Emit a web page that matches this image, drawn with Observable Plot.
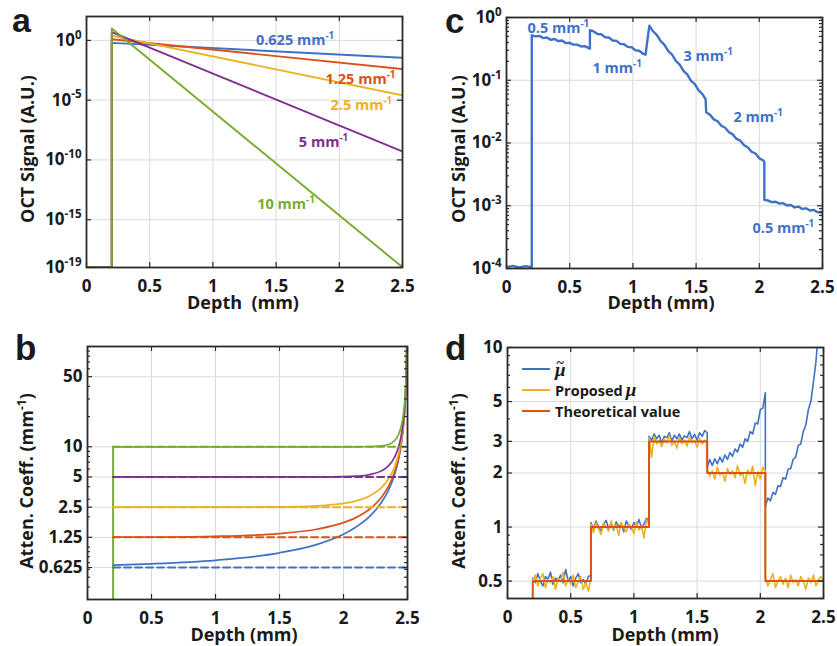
<!DOCTYPE html>
<html>
<head>
<meta charset="utf-8">
<script src="https://cdn.jsdelivr.net/npm/d3@7"></script>
<script src="https://cdn.jsdelivr.net/npm/@observablehq/plot@0.6"></script>
<style>
  html, body { margin: 0; padding: 0; background: #fff; }
  #fig { position: relative; width: 837px; height: 646px; overflow: hidden; background: #fff; }
  #fig > svg { position: absolute; }
</style>
</head>
<body>
<div id="fig"></div>
<script>
// ---------------- shared ----------------
const xTicks = [0, 0.5, 1, 1.5, 2, 2.5];
const xTickLabels = ["0", "0.5", "1", "1.5", "2", "2.5"];
const C_BLUE = "#3f72c6", C_RED = "#d95319", C_YELLOW = "#edb120", C_PURPLE = "#7e2f8e", C_GREEN = "#77ac30";

// ---------------- panel a ----------------
const aDepth = [0, 0.2, 0.2, 2.5];
const aSig0625 = [1e-19, 1e-19, 0.62, 3.5e-2];
const aSig125 = [1e-19, 1e-19, 1.25, 4.0e-3];
const aSig25 = [1e-19, 1e-19, 2.5, 2.5e-5];
const aSig5 = [1e-19, 1e-19, 5, 5.1e-10];
const aSig10 = [1e-19, 1e-19, 10, 1.05e-19];
const aYTicks = [1e-19, 1e-15, 1e-10, 1e-5, 1];
const aYTickLabels = ["10^-19", "10^-15", "10^-10", "10^-5", "10^0"];
const aLabelText = ["0.625 mm^-1", "1.25 mm^-1", "2.5 mm^-1", "5 mm^-1", "10 mm^-1"];
const aLabelDepth = [1.34, 1.89, 1.93, 1.68, 1.35];
const aLabelSignal = [1, 5.4e-4, 3.5e-6, 2.8e-9, 1.8e-14];

// ---------------- panel b ----------------
const bDepth = [0.2, 0.5, 1.0, 1.5, 1.8, 2.0, 2.1, 2.2, 2.3, 2.35, 2.4, 2.43, 2.45, 2.47, 2.48, 2.49, 2.495];
const bEst0625 = [0.662, 0.681, 0.738, 0.876, 1.07, 1.345, 1.59, 2.0, 2.83, 3.65, 5.32, 7.46, 10.3, 17.0, 25.3, 50.3, 100];
const bEst125 = [1.254, 1.258, 1.28, 1.362, 1.513, 1.752, 1.977, 2.369, 3.177, 4.0, 5.65, 7.79, 10.64, 17.29, 25.6, 50.6, 101];
const bEst25 = [2.5, 2.5, 2.501, 2.517, 2.578, 2.724, 2.891, 3.218, 3.955, 4.738, 6.353, 8.466, 11.3, 17.95, 26.26, 51.2, 101];
const bEst5 = [5, 5, 5, 5, 5.005, 5.034, 5.093, 5.262, 5.783, 6.436, 7.91, 9.93, 12.71, 19.29, 27.58, 52.5, 102];
const bEst10 = [10, 10, 10, 10, 10, 10, 10, 10.02, 10.19, 10.52, 11.56, 13.27, 15.82, 22.16, 30.33, 55.2, 105];
const bEdgeDepth = [0.2, 0.2];
const bEdgeValue = [0.3, 10];
const bTrueDepth = [0.2, 2.5];
const bTrue = [0.625, 1.25, 2.5, 5, 10];
const bYTicks = [0.625, 1.25, 2.5, 5, 10, 50];
const bYTickLabels = ["0.625", "1.25", "2.5", "5", "10", "50"];
const bYMinor = [0.3, 0.4, 0.5, 0.6, 0.7, 0.8, 0.9, 1, 2, 3, 4, 6, 7, 8, 9, 20, 30, 40, 60, 70, 80, 90, 100];

// ---------------- panel c ----------------
const cDepth = [
  0, 0.05, 0.10, 0.15, 0.20,
  0.20, 0.23, 0.26, 0.29, 0.32, 0.35, 0.38, 0.41, 0.44, 0.47, 0.50, 0.53, 0.56, 0.59, 0.62, 0.65, 0.66,
  0.66, 0.69, 0.72, 0.75, 0.78, 0.81, 0.84, 0.87, 0.90, 0.93, 0.96, 0.99, 1.02, 1.05, 1.08, 1.10,
  1.13, 1.16, 1.19, 1.22, 1.25, 1.28, 1.31, 1.34, 1.37, 1.40, 1.43, 1.46, 1.49, 1.52, 1.55, 1.575,
  1.58, 1.61, 1.64, 1.67, 1.70, 1.73, 1.76, 1.79, 1.82, 1.85, 1.88, 1.91, 1.94, 1.97, 2.00, 2.03, 2.04,
  2.04, 2.07, 2.10, 2.13, 2.16, 2.19, 2.22, 2.25, 2.28, 2.31, 2.34, 2.37, 2.40, 2.43, 2.46, 2.50];
const cSignal = [
  1.05e-4, 1.1e-4, 1.04e-4, 1.09e-4, 1.05e-4,
  0.52, 0.50, 0.51, 0.47, 0.48, 0.44, 0.455, 0.42, 0.43, 0.39, 0.395, 0.37, 0.37, 0.345, 0.35, 0.325, 0.32,
  0.63, 0.60, 0.545, 0.54, 0.485, 0.48, 0.43, 0.425, 0.38, 0.375, 0.34, 0.335, 0.30, 0.295, 0.265, 0.255,
  0.74, 0.60, 0.525, 0.42, 0.365, 0.29, 0.255, 0.203, 0.178, 0.141, 0.124, 0.098, 0.087, 0.069, 0.060, 0.050,
  0.031, 0.0282, 0.0238, 0.0222, 0.0188, 0.0175, 0.0148, 0.0137, 0.0116, 0.0109, 0.0092, 0.0085, 0.0072, 0.0068, 0.0057, 0.0053, 0.0050,
  0.00124, 0.00121, 0.00114, 0.00116, 0.00108, 0.00110, 0.00101, 0.00103, 0.00094, 0.00097, 0.00089, 0.00091, 0.00084, 0.00086, 0.00079, 0.00078];
const cYTicks = [1e-4, 1e-3, 1e-2, 1e-1, 1];
const cYTickLabels = ["10^-4", "10^-3", "10^-2", "10^-1", "10^0"];
const cYMinor = [2e-4, 3e-4, 4e-4, 5e-4, 6e-4, 7e-4, 8e-4, 9e-4, 2e-3, 3e-3, 4e-3, 5e-3, 6e-3, 7e-3, 8e-3, 9e-3,
                 2e-2, 3e-2, 4e-2, 5e-2, 6e-2, 7e-2, 8e-2, 9e-2, 0.2, 0.3, 0.4, 0.5, 0.6, 0.7, 0.8, 0.9];
const cLabelText = ["0.5 mm^-1", "1 mm^-1", "3 mm^-1", "2 mm^-1", "0.5 mm^-1"];
const cLabelDepth = [0.166, 0.68, 1.40, 1.796, 1.946];
const cLabelSignal = [0.675, 0.156, 0.24, 0.0258, 4.4e-4];

// ---------------- panel d ----------------
const dDepth = [
  0.20,0.22,0.24,0.26,0.28,0.30,0.32,0.34,0.36,0.38,0.40,0.42,0.44,0.46,0.48,0.50,0.52,0.54,0.56,0.58,0.60,0.62,0.64,0.66,
  0.66,0.68,0.70,0.72,0.74,0.76,0.78,0.80,0.82,0.84,0.86,0.88,0.90,0.92,0.94,0.96,0.98,1.00,1.02,1.04,1.06,1.08,1.10,1.12,
  1.12,1.14,1.16,1.18,1.20,1.22,1.24,1.26,1.28,1.30,1.32,1.34,1.36,1.38,1.40,1.42,1.44,1.46,1.48,1.50,1.52,1.54,1.56,1.58,
  1.58,1.60,1.62,1.64,1.66,1.68,1.70,1.72,1.74,1.76,1.78,1.80,1.82,1.84,1.86,1.88,1.90,1.92,1.94,1.96,1.98,2.00,2.02,2.04,
  2.04,2.06,2.08,2.10,2.12,2.14,2.16,2.18,2.20,2.22,2.24,2.26,2.28,2.30,2.32,2.34,2.36,2.38,2.40,2.42,2.44,2.46,2.48,2.50];
const dProposed = [
  0.50,0.54,0.47,0.52,0.55,0.46,0.51,0.49,0.53,0.45,0.52,0.50,0.56,0.47,0.51,0.48,0.54,0.46,0.50,0.53,0.45,0.49,0.44,0.52,
  1.04,0.93,1.06,0.98,0.91,1.05,1.01,0.95,1.08,0.97,1.03,0.90,1.06,0.99,0.94,1.04,1.00,0.92,1.07,0.96,1.02,0.87,1.10,1.03,
  3.15,2.45,3.20,2.90,3.05,2.80,3.10,2.95,3.25,2.85,3.00,2.75,3.15,2.92,3.05,2.82,3.18,2.95,3.02,2.78,3.12,2.90,3.05,2.95,
  2.10,1.92,2.05,1.85,2.15,1.95,2.02,1.80,2.12,1.97,2.05,1.88,2.20,1.93,2.00,1.75,2.08,1.95,2.18,1.70,2.03,1.85,2.15,2.05,
  0.53,0.47,0.51,0.55,0.46,0.50,0.53,0.48,0.52,0.46,0.54,0.49,0.51,0.47,0.53,0.50,0.45,0.52,0.49,0.54,0.47,0.51,0.53,0.50];
const dTilde = [
  0.52,0.49,0.55,0.50,0.47,0.53,0.51,0.56,0.48,0.52,0.50,0.54,0.49,0.58,0.50,0.53,0.47,0.52,0.55,0.49,0.51,0.48,0.53,0.54,
  1.06,0.97,1.08,1.01,0.95,1.04,1.09,0.98,1.03,0.96,1.07,1.00,1.05,0.94,1.08,1.02,0.97,1.06,1.01,1.10,0.99,1.04,1.12,1.07,
  3.20,3.05,3.30,3.10,3.25,2.95,3.20,3.15,3.35,3.00,3.25,3.10,3.30,3.05,3.22,3.15,3.40,3.10,3.28,3.05,3.35,3.20,3.45,3.35,
  2.15,2.38,2.20,2.40,2.25,2.45,2.30,2.52,2.38,2.60,2.48,2.72,2.62,2.90,2.78,3.10,3.00,3.40,3.30,3.80,3.75,4.50,4.60,5.60,
  1.30,1.45,1.40,1.56,1.52,1.70,1.68,1.88,1.85,2.10,2.12,2.38,2.45,2.85,2.90,3.40,3.70,4.50,5.00,6.40,8.30,12.5,25.0,60.0];
const dTheoryDepth = [0.2, 0.2, 0.66, 0.66, 1.12, 1.12, 1.58, 1.58, 2.04, 2.04, 2.5];
const dTheory = [0.4, 0.5, 0.5, 1, 1, 3, 3, 2, 2, 0.5, 0.5];
const dYTicks = [0.5, 1, 2, 3, 5, 10];
const dYTickLabels = ["0.5", "1", "2", "3", "5", "10"];
const dYMinor = [0.4, 0.6, 0.7, 0.8, 0.9, 4, 6, 7, 8, 9];

// ---------------- helpers ----------------
const rows = (xs, ys) => xs.map((z, i) => ({z, v: ys[i]}));
const FRAME = "#2b2b2b";

function supify(root) {
  root.querySelectorAll("text").forEach(t => {
    const s = t.textContent;
    const k = s.indexOf("^");
    if (k < 0) return;
    t.textContent = "";
    t.appendChild(document.createTextNode(s.slice(0, k)));
    const ts = document.createElementNS("http://www.w3.org/2000/svg", "tspan");
    ts.setAttribute("dy", "-0.62em");
    ts.setAttribute("font-size", "0.68em");
    ts.textContent = s.slice(k + 1);
    t.appendChild(ts);
  });
}

function panel(cfg) {
  const W = cfg.width - cfg.ml - cfg.mr;
  const H = cfg.height - cfg.mt - cfg.mb;
  const xLab = new Map(xTicks.map((t, i) => [t, xTickLabels[i]]));
  const yLab = new Map(cfg.yTicks.map((t, i) => [t, cfg.yTickLabels[i]]));
  const tk = {stroke: FRAME, strokeWidth: 1.2};
  const ticks = [
    Plot.tickX(xTicks, {x: d => d, insetTop: H - 5, ...tk}),
    Plot.tickX(xTicks, {x: d => d, insetBottom: H - 5, ...tk}),
    Plot.tickY(cfg.yTicks, {y: d => d, insetRight: W - 5, ...tk}),
    Plot.tickY(cfg.yTicks, {y: d => d, insetLeft: W - 5, ...tk})
  ];
  if (cfg.yMinor) {
    ticks.push(Plot.tickY(cfg.yMinor, {y: d => d, insetRight: W - 3, ...tk}));
    ticks.push(Plot.tickY(cfg.yMinor, {y: d => d, insetLeft: W - 3, ...tk}));
  }
  const svg = Plot.plot({
    width: cfg.width, height: cfg.height,
    marginLeft: cfg.ml, marginRight: cfg.mr, marginTop: cfg.mt, marginBottom: cfg.mb,
    x: {domain: [0, 2.5], label: null},
    y: {type: "log", domain: cfg.yDomain, label: null, axis: null},
    style: {fontFamily: "'Open Sans', 'DejaVu Sans', sans-serif", fontSize: "17px", fontWeight: "700",
            color: "#1a1a1a", background: "transparent", overflow: "visible"},
    marks: [
      Plot.gridX(xTicks.slice(1, -1), {stroke: "#dadada", strokeOpacity: 1, strokeWidth: 1}),
      Plot.gridY(cfg.yTicks, {stroke: "#dadada", strokeOpacity: 1, strokeWidth: 1}),
      ...cfg.marks,
      ...ticks,
      Plot.axisX(xTicks, {tickSize: 0, tickPadding: 12, tickFormat: d => xLab.get(d), label: null}),
      Plot.text(cfg.yTicks, {y: d => d, text: d => yLab.get(d), frameAnchor: "left", textAnchor: "end",
        lineAnchor: "middle", dx: -5, fill: "#1a1a1a"}),
      Plot.frame({stroke: FRAME, strokeWidth: 1.8})
    ]
  });
  supify(svg);
  svg.style.left = cfg.left + "px";
  svg.style.top = cfg.top + "px";
  return svg;
}

const labelMarks = (texts, xs, ys, colors) => texts.map((t, i) =>
  Plot.text([{z: xs[i], v: ys[i], t}], {x: "z", y: "v", text: "t", fill: colors[i], textAnchor: "start",
    lineAnchor: "middle", fontSize: 14.5, fontWeight: "bold"}));

const fig = document.getElementById("fig");

// panel a
const aColors = [C_BLUE, C_RED, C_YELLOW, C_PURPLE, C_GREEN];
const aSeries = [aSig0625, aSig125, aSig25, aSig5, aSig10];
fig.appendChild(panel({
  left: 0, top: 0, width: 420, height: 320, ml: 86, mr: 18, mt: 16, mb: 53,
  yDomain: [1e-19, 1e2], yTicks: aYTicks, yTickLabels: aYTickLabels,
  marks: [
    ...aSeries.map((s, i) => Plot.line(rows(aDepth, s), {x: "z", y: "v", stroke: aColors[i], strokeWidth: 1.9, clip: true})),
    ...labelMarks(aLabelText, aLabelDepth, aLabelSignal, aColors)
  ]
}));

// panel b
const bSeries = [bEst0625, bEst125, bEst25, bEst5, bEst10];
fig.appendChild(panel({
  left: 0, top: 320, width: 420, height: 326, ml: 87, mr: 13, mt: 26, mb: 47,
  yDomain: [0.3, 100], yTicks: bYTicks, yTickLabels: bYTickLabels, yMinor: bYMinor,
  marks: [
    Plot.line(rows(bEdgeDepth, bEdgeValue), {x: "z", y: "v", stroke: C_GREEN, strokeWidth: 2, clip: true}),
    ...bSeries.map((s, i) => Plot.line(rows(bDepth, s), {x: "z", y: "v", stroke: aColors[i], strokeWidth: 1.7, curve: "monotone-x", clip: true})),
    ...bTrue.map((m, i) => Plot.line(rows(bTrueDepth, [m, m]), {x: "z", y: "v", stroke: aColors[i], strokeWidth: 2, strokeDasharray: "7,4", clip: true}))
  ]
}));

// panel c
fig.appendChild(panel({
  left: 420, top: 0, width: 417, height: 320, ml: 86, mr: 15, mt: 17, mb: 52,
  yDomain: [1e-4, 1], yTicks: cYTicks, yTickLabels: cYTickLabels, yMinor: cYMinor,
  marks: [
    Plot.line(rows(cDepth, cSignal), {x: "z", y: "v", stroke: C_BLUE, strokeWidth: 2.4, clip: true}),
    ...labelMarks(cLabelText, cLabelDepth, cLabelSignal, [C_BLUE, C_BLUE, C_BLUE, C_BLUE, C_BLUE])
  ]
}));

// panel d
fig.appendChild(panel({
  left: 420, top: 320, width: 417, height: 326, ml: 87, mr: 14, mt: 27, mb: 48,
  yDomain: [0.4, 10], yTicks: dYTicks, yTickLabels: dYTickLabels, yMinor: dYMinor,
  marks: [
    Plot.line(rows(dDepth, dTilde), {x: "z", y: "v", stroke: C_BLUE, strokeWidth: 1.6, clip: true}),
    Plot.line(rows(dDepth, dProposed), {x: "z", y: "v", stroke: C_YELLOW, strokeWidth: 1.6, clip: true}),
    Plot.line(rows(dTheoryDepth, dTheory), {x: "z", y: "v", stroke: C_RED, strokeWidth: 2, clip: true})
  ]
}));

// overlay: panel letters, axis titles, legend
const SERIF = "'Liberation Serif','DejaVu Serif',serif";
const ov = `
<svg width="837" height="646" style="left:0;top:0;pointer-events:none" xmlns="http://www.w3.org/2000/svg"
     font-family="'Open Sans','DejaVu Sans',sans-serif" font-weight="700" fill="#1a1a1a">
  <g font-family="'Liberation Sans',Arial,sans-serif" font-size="35">
    <text x="12" y="32" font-size="34">a</text>
    <text x="15" y="360">b</text>
    <text x="445" y="33">c</text>
    <text x="445" y="360">d</text>
  </g>
  <g font-size="18">
    <text x="243" y="309" text-anchor="middle" style="white-space:pre">Depth  (mm)</text>
    <text x="661" y="309" text-anchor="middle">Depth (mm)</text>
    <text x="244" y="641" text-anchor="middle">Depth (mm)</text>
    <text x="665" y="641" text-anchor="middle">Depth (mm)</text>
    <text transform="translate(34,149) rotate(-90)" text-anchor="middle">OCT Signal (A.U.)</text>
    <text transform="translate(465,149) rotate(-90)" text-anchor="middle">OCT Signal (A.U.)</text>
    <text transform="translate(33,481) rotate(-90)" text-anchor="middle">Atten. Coeff. (mm<tspan dy="-7" font-size="12">-1</tspan><tspan dy="7">)</tspan></text>
    <text transform="translate(465,481) rotate(-90)" text-anchor="middle">Atten. Coeff. (mm<tspan dy="-7" font-size="12">-1</tspan><tspan dy="7">)</tspan></text>
  </g>
  <g stroke-width="2">
    <line x1="522" x2="550" y1="369" y2="369" stroke="${C_BLUE}"/>
    <line x1="522" x2="550" y1="390" y2="390" stroke="${C_YELLOW}"/>
    <line x1="522" x2="550" y1="411" y2="411" stroke="${C_RED}"/>
  </g>
  <g font-size="14.5">
    <text x="555" y="376" font-family="${SERIF}" font-style="italic" font-size="19">μ<tspan dx="-9" dy="-8" font-style="normal" font-size="14">~</tspan></text>
    <text x="555" y="396">Proposed<tspan font-family="${SERIF}" font-style="italic" font-size="19" dx="3">μ</tspan></text>
    <text x="555" y="417">Theoretical value</text>
  </g>
</svg>`;
fig.insertAdjacentHTML("beforeend", ov);
</script>
</body>
</html>
